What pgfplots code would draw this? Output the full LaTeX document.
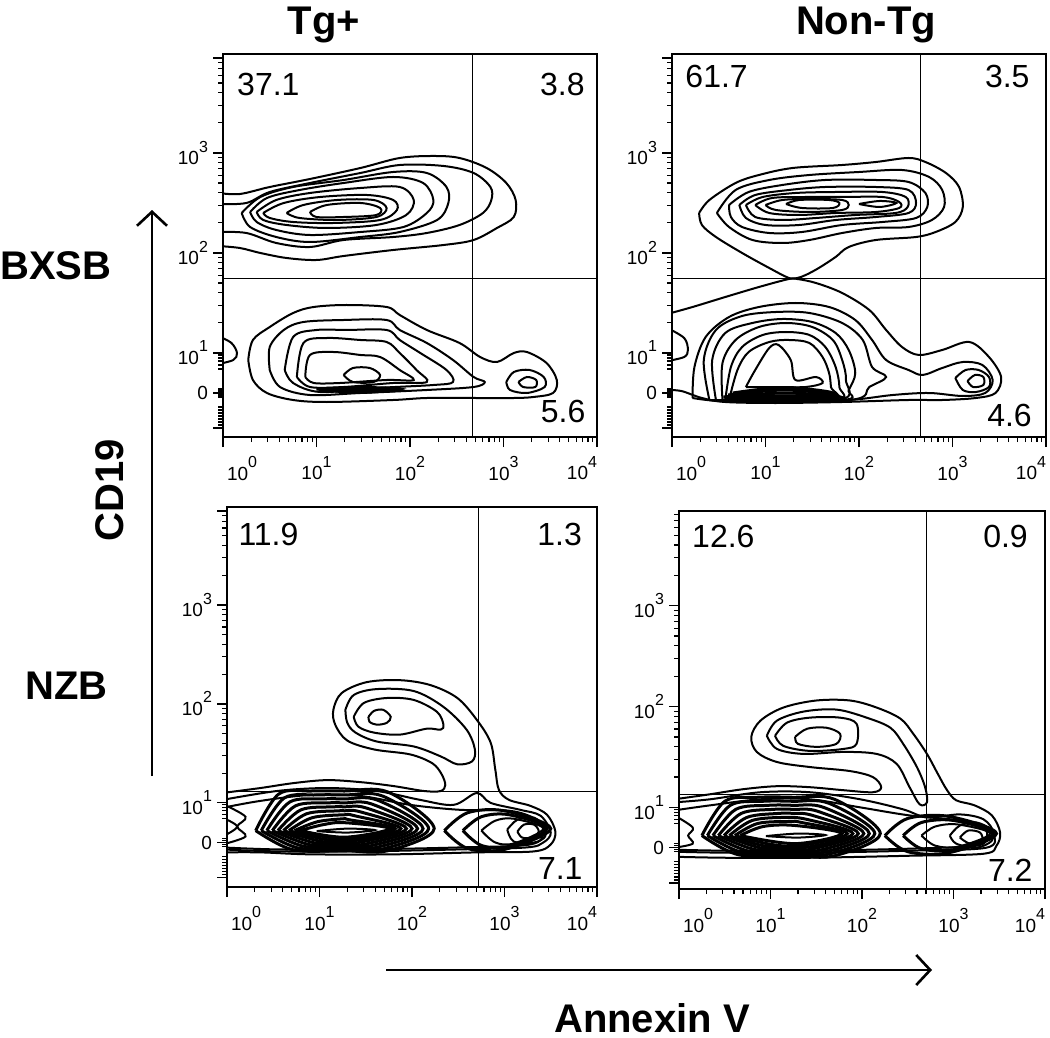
\documentclass[border=0pt]{standalone}
\usepackage{fontspec}
\setmainfont{Liberation Sans}
\usepackage{pgfplots}
\pgfplotsset{compat=1.18}
\usetikzlibrary{arrows.meta}

\newcommand{\tl}[1]{10\raisebox{0.68em}{\fontsize{8}{8}\selectfont #1}}
\newcommand{\qfont}{\fontsize{16}{16}\selectfont}
\newcommand{\bigfont}{\fontsize{20}{20}\selectfont\bfseries}

\pgfplotsset{
  flow/.style={
    scale only axis,
    anchor=south west,
    xmin=0, xmax=4,
    axis line style={line width=0.8pt},
    tick align=outside,
    xtick pos=bottom, ytick pos=left,
    major tick length=5pt, minor tick length=2.5pt,
    every tick/.style={black, line width=0.6pt},
    xtick={0,1,2,3,4},
    xticklabels={\makebox[0pt][l]{\hspace{2pt}\tl{0}},\tl{1},\tl{2},\tl{3},\makebox[0pt][r]{\tl{4}}},
    minor xtick={0.301,0.477,0.602,0.699,0.778,0.845,0.903,0.954,
                 1.301,1.477,1.602,1.699,1.778,1.845,1.903,1.954,
                 2.301,2.477,2.602,2.699,2.778,2.845,2.903,2.954,
                 3.301,3.477,3.602,3.699,3.778,3.845,3.903,3.954},
    ytick={0.6,1,2,3},
    yticklabels={0,\tl{1},\tl{2},\tl{3}},
    minor ytick={0.28,0.31,0.34,0.37,0.40,0.43,0.46,0.56,0.58,0.62,0.64,
                 0.84,0.88,0.92,0.95,0.98,
                 1.301,1.477,1.602,1.699,1.778,1.845,1.903,1.954,
                 2.301,2.477,2.602,2.699,2.778,2.845,2.903,2.954,
                 3.301,3.477,3.602,3.699,3.778,3.845,3.903},
    extra y ticks={0.25,3.95}, extra y tick labels={,},
    tick label style={font=\fontsize{9.5}{10}\selectfont},
    xticklabel style={yshift=-1pt},
    yticklabel style={xshift=1pt},
  },
  ct/.style={black, line width=1pt, smooth, tension=0.55, mark=none},
  dense/.style={black, line width=1.5pt, smooth, tension=0.55, mark=none},
  gate/.style={black, line width=0.5pt, mark=none},
}

\begin{document}
\begin{tikzpicture}
\path[use as bounding box] (0pt,0pt) rectangle (525pt,-519pt);

% ---------------- BXSB, Tg+ ----------------
\begin{axis}[flow, at={(111.5pt,-218.5pt)}, width=187pt, height=191.5pt, ymin=0.16, ymax=3.99]
\addplot[gate] coordinates {(2.67,0) (2.67,4.1)};
\addplot[gate] coordinates {(0,1.74) (4,1.74)};
% upper population
\addplot[ct] coordinates {(-0.05,2.60) (0.18,2.59) (0.50,2.66) (0.93,2.74) (1.47,2.85) (1.89,2.95) (2.25,2.97) (2.53,2.95) (2.82,2.85) (3.03,2.70) (3.13,2.53) (3.11,2.36) (2.93,2.25) (2.68,2.13) (2.36,2.08) (1.82,2.03) (1.29,1.97) (1.00,1.93) (0.68,1.95) (0.40,2.00) (0.18,2.05) (-0.05,2.07)};
\addplot[ct] coordinates {(-0.05,2.49) (0.25,2.50) (0.50,2.61) (0.93,2.70) (1.47,2.80) (1.89,2.88) (2.36,2.87) (2.68,2.80) (2.86,2.66) (2.87,2.53) (2.78,2.40) (2.53,2.28) (2.18,2.20) (1.82,2.16) (1.29,2.13) (0.93,2.06) (0.57,2.10) (0.25,2.20) (-0.05,2.21)};
\addplot[ct] coordinates {(0.20,2.40) (0.40,2.56) (0.75,2.66) (1.29,2.73) (1.82,2.81) (2.18,2.80) (2.39,2.66) (2.41,2.50) (2.29,2.33) (1.89,2.21) (1.47,2.16) (0.93,2.11) (0.57,2.16) (0.29,2.26) (0.20,2.40)};
\addplot[ct] coordinates {(0.29,2.41) (0.47,2.55) (0.82,2.63) (1.29,2.70) (1.82,2.76) (2.14,2.70) (2.25,2.53) (2.18,2.40) (1.93,2.26) (1.47,2.21) (0.93,2.18) (0.57,2.23) (0.36,2.31) (0.29,2.41)};
\addplot[ct] coordinates {(0.36,2.41) (0.57,2.53) (0.93,2.60) (1.47,2.65) (1.89,2.66) (2.04,2.53) (1.96,2.38) (1.64,2.28) (1.11,2.25) (0.68,2.28) (0.43,2.33) (0.36,2.41)};
\addplot[ct] coordinates {(0.43,2.40) (0.65,2.50) (1.04,2.56) (1.54,2.58) (1.82,2.53) (1.86,2.43) (1.68,2.33) (1.18,2.30) (0.75,2.31) (0.50,2.35) (0.43,2.40)};
\addplot[ct] coordinates {(0.68,2.40) (0.86,2.48) (1.22,2.53) (1.61,2.53) (1.75,2.45) (1.64,2.36) (1.22,2.33) (0.82,2.35) (0.68,2.40)};
\addplot[ct] coordinates {(0.93,2.41) (1.11,2.48) (1.47,2.50) (1.68,2.45) (1.64,2.38) (1.29,2.36) (1.00,2.36) (0.93,2.41)};
% lower population
\addplot[ct] coordinates {(-0.05,1.17) (0.09,1.10) (0.15,1.00) (0.11,0.93) (-0.05,0.89)};
\addplot[ct] coordinates {(0.27,0.93) (0.32,1.13) (0.50,1.26) (0.75,1.40) (0.97,1.46) (1.32,1.48) (1.75,1.46) (1.89,1.38) (2.18,1.23) (2.53,1.10) (2.75,0.96) (2.93,0.91) (3.11,1.00) (3.25,1.01) (3.46,0.90) (3.57,0.73) (3.53,0.60) (3.32,0.56) (3.11,0.55) (2.71,0.55) (2.18,0.55) (1.82,0.53) (1.11,0.51) (0.75,0.53) (0.47,0.60) (0.32,0.73) (0.27,0.93)};
\addplot[ct] coordinates {(0.50,0.83) (0.50,1.06) (0.65,1.23) (0.86,1.31) (1.29,1.33) (1.75,1.33) (1.89,1.23) (2.18,1.10) (2.46,0.93) (2.68,0.76) (2.80,0.71) (2.68,0.66) (2.18,0.63) (1.47,0.60) (0.93,0.58) (0.61,0.66) (0.50,0.83)};
\addplot[ct] coordinates {(0.66,0.83) (0.75,1.16) (1.00,1.23) (1.32,1.23) (1.75,1.23) (1.89,1.13) (2.11,1.00) (2.39,0.83) (2.46,0.71) (2.25,0.68) (1.64,0.65) (1.04,0.61) (0.75,0.70) (0.66,0.83)};
\addplot[ct] coordinates {(0.79,0.76) (0.86,1.10) (1.11,1.15) (1.47,1.13) (1.75,1.11) (1.89,1.00) (2.07,0.83) (2.18,0.71) (1.82,0.70) (1.29,0.66) (0.93,0.66) (0.79,0.76)};
\addplot[ct] coordinates {(0.88,0.76) (0.93,0.98) (1.18,1.01) (1.47,0.98) (1.68,0.96) (1.89,0.83) (2.04,0.73) (1.75,0.73) (1.25,0.70) (0.97,0.70) (0.88,0.76)};
\addplot[ct] coordinates {(1.29,0.78) (1.39,0.85) (1.57,0.85) (1.68,0.78) (1.61,0.71) (1.39,0.71) (1.29,0.78)};
\addplot[dense] coordinates {(1.00,0.64) (1.45,0.655) (1.90,0.64) (1.45,0.605) (1.00,0.64)};
\addplot[dense] coordinates {(1.05,0.63) (1.45,0.635) (1.85,0.625) (1.45,0.615) (1.05,0.63)};
\addplot[ct] coordinates {(3.03,0.71) (3.11,0.81) (3.28,0.83) (3.43,0.76) (3.44,0.66) (3.25,0.60) (3.07,0.63) (3.03,0.71)};
\addplot[ct] coordinates {(3.16,0.71) (3.25,0.76) (3.35,0.73) (3.34,0.66) (3.21,0.66) (3.16,0.71)};
\node[anchor=north west, inner sep=0pt, font=\qfont] at (rel axis cs:0.037,0.950) {37.1};
\node[anchor=north east, inner sep=0pt, font=\qfont] at (rel axis cs:0.968,0.950) {3.8};
\node[anchor=south east, inner sep=0pt, font=\qfont] at (rel axis cs:0.970,0.037) {5.6};
\end{axis}

% ---------------- BXSB, Non-Tg ----------------
\begin{axis}[flow, at={(336pt,-218.5pt)}, width=187pt, height=191.5pt, ymin=0.16, ymax=3.99]
\addplot[gate] coordinates {(2.66,0) (2.66,4.1)};
\addplot[gate] coordinates {(0,1.74) (4,1.74)};
% upper population
\addplot[ct] coordinates {(0.29,2.40) (0.40,2.53) (0.68,2.70) (0.93,2.78) (1.29,2.85) (1.82,2.88) (2.18,2.91) (2.53,2.95) (2.71,2.91) (2.93,2.80) (3.07,2.66) (3.11,2.46) (3.03,2.31) (2.82,2.21) (2.61,2.16) (2.18,2.13) (1.89,2.06) (1.75,1.96) (1.57,1.85) (1.43,1.78) (1.34,1.75) (1.25,1.75) (1.04,1.85) (0.75,2.00) (0.47,2.16) (0.32,2.28) (0.29,2.40)};
\addplot[ct] coordinates {(0.48,2.40) (0.68,2.63) (1.04,2.73) (1.47,2.78) (2.00,2.81) (2.46,2.83) (2.75,2.76) (2.89,2.63) (2.91,2.46) (2.78,2.33) (2.53,2.26) (2.18,2.25) (1.82,2.20) (1.47,2.13) (1.18,2.10) (0.86,2.13) (0.61,2.26) (0.48,2.40)};
\addplot[ct] coordinates {(0.61,2.48) (0.82,2.61) (1.18,2.68) (1.64,2.73) (2.18,2.73) (2.53,2.71) (2.71,2.60) (2.73,2.46) (2.61,2.35) (2.25,2.31) (1.82,2.28) (1.39,2.21) (1.04,2.20) (0.75,2.26) (0.63,2.36) (0.61,2.48)};
\addplot[ct] coordinates {(0.72,2.48) (0.89,2.58) (1.25,2.63) (1.64,2.66) (2.18,2.66) (2.53,2.63) (2.61,2.50) (2.53,2.40) (2.18,2.36) (1.75,2.33) (1.36,2.28) (1.00,2.28) (0.79,2.35) (0.72,2.48)};
\addplot[ct] coordinates {(0.79,2.48) (0.97,2.56) (1.32,2.60) (1.75,2.61) (2.25,2.61) (2.50,2.56) (2.52,2.46) (2.39,2.40) (1.96,2.38) (1.54,2.35) (1.18,2.33) (0.89,2.36) (0.79,2.48)};
\addplot[ct] coordinates {(0.89,2.48) (1.07,2.55) (1.43,2.56) (1.82,2.56) (2.25,2.56) (2.43,2.51) (2.43,2.45) (2.18,2.41) (1.75,2.40) (1.36,2.38) (1.04,2.40) (0.89,2.48)};
\addplot[ct] coordinates {(1.00,2.48) (1.18,2.53) (1.47,2.54) (1.82,2.53) (1.89,2.48) (1.82,2.43) (1.47,2.41) (1.11,2.43) (1.00,2.48)};
\addplot[ct] coordinates {(1.22,2.49) (1.36,2.53) (1.68,2.53) (1.79,2.50) (1.72,2.45) (1.39,2.45) (1.22,2.49)};
\addplot[ct] coordinates {(2.00,2.49) (2.22,2.52) (2.40,2.50) (2.22,2.46) (2.00,2.49)};
% lower population
\addplot[ct] coordinates {(-0.05,1.39) (0.22,1.46) (0.57,1.56) (0.93,1.66) (1.25,1.74) (1.34,1.74) (1.54,1.70) (1.82,1.60) (2.11,1.43) (2.29,1.23) (2.46,1.06) (2.64,0.98) (2.89,1.03) (3.18,1.11) (3.39,0.96) (3.52,0.76) (3.46,0.60) (3.25,0.55) (2.89,0.53) (2.53,0.53) (1.82,0.51) (1.11,0.50) (0.57,0.51) (0.32,0.55) (0.10,0.62) (-0.05,0.63)};
\addplot[ct] coordinates {(-0.05,1.25) (0.13,1.15) (0.17,1.03) (0.13,0.96) (-0.05,0.92)};
\addplot[ct] coordinates {(0.22,0.55) (0.24,0.86) (0.36,1.16) (0.61,1.36) (0.93,1.46) (1.32,1.50) (1.68,1.46) (1.96,1.33) (2.14,1.13) (2.29,0.93) (2.53,0.83) (2.68,0.78) (2.89,0.85) (3.11,0.91) (3.32,0.88) (3.43,0.73) (3.35,0.60) (3.11,0.57) (2.75,0.60) (2.36,0.58) (1.89,0.53) (1.11,0.51) (0.50,0.52) (0.22,0.55)};
\addplot[ct] coordinates {(0.40,0.53) (0.34,0.93) (0.47,1.23) (0.75,1.37) (1.11,1.41) (1.47,1.40) (1.82,1.30) (2.04,1.13) (2.14,0.86) (2.29,0.76) (2.11,0.66) (1.89,0.53) (0.40,0.53)};
\addplot[ct] coordinates {(0.47,0.53) (0.43,0.93) (0.57,1.20) (0.86,1.30) (1.18,1.34) (1.50,1.31) (1.75,1.20) (1.89,1.03) (1.96,0.80) (1.89,0.63) (1.82,0.53) (0.47,0.53)};
\addplot[ct] coordinates {(0.54,0.53) (0.54,0.90) (0.68,1.13) (0.93,1.26) (1.22,1.30) (1.50,1.26) (1.72,1.13) (1.82,0.93) (1.86,0.73) (1.79,0.53) (0.54,0.53)};
\addplot[ct] coordinates {(0.57,0.53) (0.63,0.86) (0.75,1.06) (0.97,1.18) (1.22,1.21) (1.47,1.18) (1.64,1.06) (1.75,0.86) (1.79,0.66) (1.75,0.53) (0.57,0.53)};
\addplot[ct] coordinates {(0.61,0.53) (0.70,0.83) (0.82,1.01) (1.04,1.11) (1.25,1.13) (1.47,1.10) (1.61,0.96) (1.68,0.80) (1.70,0.66) (1.71,0.53) (0.61,0.53)};
\addplot[ct] coordinates {(0.79,0.66) (0.89,0.83) (1.04,1.05) (1.14,1.08) (1.27,0.93) (1.32,0.73) (1.54,0.76) (1.61,0.70) (1.43,0.66) (1.11,0.66) (0.79,0.66)};
\addplot[dense] coordinates {(0.55,0.56) (1.20,0.60) (1.80,0.56) (1.20,0.52) (0.55,0.56)};
\addplot[dense] coordinates {(0.60,0.58) (1.20,0.63) (1.75,0.58) (1.20,0.545) (0.60,0.58)};
\addplot[dense] coordinates {(0.65,0.60) (1.20,0.655) (1.72,0.60) (1.20,0.57) (0.65,0.60)};
\addplot[ct] coordinates {(3.03,0.75) (3.14,0.83) (3.28,0.83) (3.39,0.76) (3.39,0.66) (3.25,0.61) (3.11,0.63) (3.03,0.75)};
\addplot[ct] coordinates {(3.16,0.72) (3.24,0.78) (3.33,0.76) (3.33,0.68) (3.22,0.66) (3.16,0.72)};
\node[anchor=north west, inner sep=0pt, font=\qfont] at (rel axis cs:0.035,0.971) {61.7};
\node[anchor=north east, inner sep=0pt, font=\qfont] at (rel axis cs:0.957,0.971) {3.5};
\node[anchor=south east, inner sep=0pt, font=\qfont] at (rel axis cs:0.963,0.026) {4.6};
\end{axis}

% ---------------- NZB, Tg+ ----------------
\begin{axis}[flow, at={(113.5pt,-443.5pt)}, width=185pt, height=190pt, ymin=0.15, ymax=3.99]
\addplot[gate] coordinates {(2.72,0) (2.72,4.1)};
\addplot[gate] coordinates {(0,1.12) (4,1.12)};
\addplot[ct] coordinates {(-0.05,1.10) (0.36,1.15) (0.72,1.20) (1.08,1.23) (1.44,1.21) (1.80,1.17) (2.13,1.12) (2.31,1.12) (2.36,1.18) (2.32,1.29) (2.22,1.40) (1.98,1.49) (1.59,1.54) (1.30,1.63) (1.17,1.79) (1.15,1.94) (1.24,2.11) (1.51,2.22) (1.87,2.24) (2.20,2.19) (2.49,2.06) (2.70,1.84) (2.85,1.61) (2.90,1.34) (2.94,1.13) (3.05,1.03) (3.28,0.97) (3.46,0.88) (3.55,0.71) (3.50,0.58) (3.32,0.51) (2.70,0.50) (1.80,0.48) (0.90,0.48) (0.36,0.50) (-0.05,0.50)};
\addplot[ct] coordinates {(1.28,1.94) (1.37,2.09) (1.62,2.15) (2.02,2.13) (2.34,1.97) (2.59,1.74) (2.68,1.54) (2.65,1.42) (2.49,1.39) (2.31,1.47) (2.02,1.57) (1.62,1.62) (1.39,1.71) (1.30,1.81) (1.28,1.94)};
\addplot[ct] coordinates {(1.37,1.87) (1.48,2.01) (1.73,2.06) (2.02,2.04) (2.27,1.92) (2.34,1.79) (2.31,1.74) (2.16,1.75) (1.87,1.69) (1.59,1.71) (1.42,1.77) (1.37,1.87)};
\addplot[ct] coordinates {(1.53,1.87) (1.59,1.93) (1.69,1.94) (1.77,1.87) (1.73,1.81) (1.62,1.79) (1.54,1.82) (1.53,1.87)};
% dense lower band
\addplot[ct] coordinates {(-0.05,1.03) (0.54,1.12) (1.08,1.15) (1.62,1.12) (2.09,1.03) (2.45,0.98) (2.70,1.10) (2.85,1.00) (3.17,0.93) (3.39,0.87) (3.50,0.70) (3.42,0.60) (3.24,0.55) (2.52,0.53) (1.44,0.51) (0.54,0.51) (-0.05,0.53)};
\addplot[ct] coordinates {(-0.05,0.95) (0.36,1.02) (0.90,1.08) (1.44,1.07) (1.98,0.98) (2.52,0.93) (3.06,0.92) (3.35,0.83) (3.42,0.70) (3.28,0.58) (2.52,0.55) (1.44,0.53) (0.54,0.53) (-0.05,0.55)};
\addplot[ct] coordinates {(-0.05,0.99) (0.20,0.86) (0.11,0.76) (0.20,0.66) (-0.05,0.58)};
\addplot[ct] coordinates {(-0.05,0.85) (0.11,0.76) (-0.05,0.66)};
\addplot[dense] coordinates {(0.31,0.72) (0.56,1.09) (0.91,1.12) (1.27,1.12) (1.74,1.11) (2.24,0.74) (1.74,0.517) (1.27,0.517) (0.71,0.527) (0.31,0.72)};
\addplot[dense] coordinates {(0.37,0.72) (0.62,1.05) (0.97,1.08) (1.27,1.08) (1.68,1.07) (2.18,0.74) (1.68,0.534) (1.27,0.534) (0.77,0.544) (0.37,0.72)};
\addplot[dense] coordinates {(0.43,0.72) (0.68,1.01) (1.03,1.04) (1.27,1.04) (1.62,1.03) (2.12,0.74) (1.62,0.551) (1.27,0.551) (0.83,0.561) (0.43,0.72)};
\addplot[dense] coordinates {(0.49,0.72) (0.74,0.97) (1.09,1.00) (1.27,1.00) (1.56,0.99) (2.06,0.74) (1.56,0.568) (1.27,0.568) (0.89,0.578) (0.49,0.72)};
\addplot[dense] coordinates {(0.55,0.72) (0.80,0.93) (1.15,0.96) (1.27,0.96) (1.50,0.95) (2.00,0.74) (1.50,0.585) (1.27,0.585) (0.95,0.595) (0.55,0.72)};
\addplot[dense] coordinates {(0.61,0.72) (0.86,0.89) (1.21,0.92) (1.27,0.92) (1.44,0.91) (1.94,0.74) (1.44,0.602) (1.27,0.602) (1.01,0.612) (0.61,0.72)};
\addplot[dense] coordinates {(0.67,0.72) (0.92,0.85) (1.27,0.88) (1.38,0.87) (1.88,0.74) (1.38,0.619) (1.07,0.629) (0.67,0.72)};
\addplot[dense] coordinates {(0.73,0.72) (0.98,0.81) (1.27,0.84) (1.32,0.83) (1.82,0.74) (1.32,0.636) (1.13,0.646) (0.73,0.72)};
\addplot[dense] coordinates {(0.79,0.72) (1.04,0.78) (1.27,0.80) (1.76,0.74) (1.27,0.653) (0.79,0.72)};
\addplot[ct] coordinates {(0.97,0.715) (1.30,0.74) (1.60,0.725) (1.30,0.70) (0.97,0.715)};
\addplot[dense] coordinates {(2.35,0.72) (2.60,0.90) (3.00,0.92) (3.50,0.74) (3.00,0.53) (2.60,0.54) (2.35,0.72)};
\addplot[dense] coordinates {(2.55,0.72) (2.75,0.86) (3.05,0.88) (3.46,0.74) (3.05,0.56) (2.75,0.57) (2.55,0.72)};
\addplot[ct] coordinates {(2.75,0.72) (2.90,0.82) (3.10,0.84) (3.42,0.74) (3.10,0.59) (2.90,0.60) (2.75,0.72)};
\addplot[ct] coordinates {(3.03,0.73) (3.14,0.83) (3.32,0.85) (3.42,0.76) (3.44,0.66) (3.32,0.60) (3.10,0.61) (3.03,0.73)};
\addplot[ct] coordinates {(3.14,0.71) (3.21,0.78) (3.32,0.78) (3.37,0.71) (3.30,0.65) (3.19,0.65) (3.14,0.71)};
\node[anchor=north west, inner sep=0pt, font=\qfont] at (rel axis cs:0.030,0.958) {11.9};
\node[anchor=north east, inner sep=0pt, font=\qfont] at (rel axis cs:0.960,0.958) {1.3};
\node[anchor=south east, inner sep=0pt, font=\qfont] at (rel axis cs:0.962,0.018) {7.1};
\end{axis}

% ---------------- NZB, Non-Tg ----------------
\begin{axis}[flow, at={(339.5pt,-444.5pt)}, width=183pt, height=189pt, ymin=0.19, ymax=3.94]
\addplot[gate] coordinates {(2.70,0) (2.70,4.1)};
\addplot[gate] coordinates {(0,1.13) (4,1.13)};
\addplot[ct] coordinates {(-0.05,1.08) (0.34,1.13) (0.70,1.18) (1.07,1.21) (1.43,1.20) (1.80,1.17) (2.12,1.15) (2.21,1.20) (2.12,1.30) (1.87,1.36) (1.43,1.40) (1.07,1.45) (0.85,1.55) (0.79,1.70) (0.89,1.86) (1.14,1.99) (1.50,2.06) (1.87,2.06) (2.16,1.99) (2.42,1.88) (2.56,1.73) (2.71,1.53) (2.83,1.33) (2.93,1.17) (3.03,1.07) (3.23,1.02) (3.42,0.92) (3.51,0.75) (3.47,0.62) (3.33,0.54) (2.52,0.52) (1.43,0.50) (0.52,0.50) (-0.05,0.51)};
\addplot[ct] coordinates {(0.96,1.71) (1.07,1.86) (1.36,1.95) (1.72,1.97) (2.05,1.89) (2.31,1.79) (2.45,1.63) (2.60,1.40) (2.69,1.20) (2.71,1.05) (2.63,1.03) (2.52,1.20) (2.38,1.43) (2.16,1.53) (1.80,1.55) (1.36,1.53) (1.07,1.58) (0.96,1.71)};
\addplot[ct] coordinates {(1.05,1.71) (1.18,1.84) (1.43,1.89) (1.76,1.89) (1.94,1.83) (1.94,1.63) (1.80,1.58) (1.43,1.56) (1.14,1.61) (1.05,1.71)};
\addplot[ct] coordinates {(1.27,1.70) (1.40,1.78) (1.61,1.79) (1.76,1.73) (1.72,1.63) (1.50,1.60) (1.30,1.63) (1.27,1.70)};
% dense lower band
\addplot[ct] coordinates {(-0.05,1.05) (0.34,1.08) (0.89,1.15) (1.43,1.15) (1.98,1.08) (2.45,0.98) (2.71,0.90) (3.07,0.93) (3.33,0.88) (3.44,0.74) (3.36,0.60) (2.52,0.57) (1.43,0.55) (0.52,0.55) (-0.05,0.56)};
\addplot[ct] coordinates {(-0.05,0.97) (0.34,1.02) (0.89,1.08) (1.43,1.08) (1.98,1.00) (2.52,0.92) (3.07,0.87) (3.33,0.80) (3.36,0.70) (3.25,0.62) (2.52,0.59) (1.43,0.57) (0.52,0.57) (-0.05,0.58)};
\addplot[ct] coordinates {(-0.05,0.92) (0.15,0.80) (0.10,0.72) (0.15,0.64) (-0.05,0.60)};
\addplot[dense] coordinates {(0.25,0.72) (0.50,1.06) (0.85,1.10) (1.25,1.10) (1.70,1.08) (2.20,0.74) (1.70,0.52) (1.25,0.52) (0.65,0.53) (0.25,0.72)};
\addplot[dense] coordinates {(0.31,0.72) (0.56,1.02) (0.91,1.06) (1.25,1.06) (1.64,1.04) (2.14,0.74) (1.64,0.537) (1.25,0.537) (0.71,0.547) (0.31,0.72)};
\addplot[dense] coordinates {(0.37,0.72) (0.62,0.98) (0.97,1.02) (1.25,1.02) (1.58,1.00) (2.08,0.74) (1.58,0.554) (1.25,0.554) (0.77,0.564) (0.37,0.72)};
\addplot[dense] coordinates {(0.43,0.72) (0.68,0.94) (1.03,0.98) (1.25,0.98) (1.52,0.96) (2.02,0.74) (1.52,0.571) (1.25,0.571) (0.83,0.581) (0.43,0.72)};
\addplot[dense] coordinates {(0.49,0.72) (0.74,0.90) (1.09,0.94) (1.25,0.94) (1.46,0.92) (1.96,0.74) (1.46,0.588) (1.25,0.588) (0.89,0.598) (0.49,0.72)};
\addplot[dense] coordinates {(0.55,0.72) (0.80,0.87) (1.15,0.90) (1.40,0.88) (1.90,0.74) (1.40,0.605) (0.95,0.615) (0.55,0.72)};
\addplot[dense] coordinates {(0.61,0.72) (0.86,0.84) (1.21,0.86) (1.34,0.85) (1.84,0.74) (1.34,0.622) (1.01,0.632) (0.61,0.72)};
\addplot[dense] coordinates {(0.67,0.72) (0.92,0.81) (1.27,0.82) (1.78,0.74) (1.27,0.64) (0.67,0.72)};
\addplot[ct] coordinates {(0.95,0.715) (1.30,0.74) (1.60,0.725) (1.30,0.70) (0.95,0.715)};
\addplot[dense] coordinates {(2.25,0.72) (2.50,0.89) (2.95,0.91) (3.47,0.74) (2.95,0.55) (2.50,0.56) (2.25,0.72)};
\addplot[dense] coordinates {(2.45,0.72) (2.65,0.85) (3.00,0.87) (3.43,0.74) (3.00,0.58) (2.65,0.59) (2.45,0.72)};
\addplot[ct] coordinates {(2.65,0.72) (2.80,0.81) (3.05,0.83) (3.40,0.74) (3.05,0.61) (2.80,0.62) (2.65,0.72)};
\addplot[ct] coordinates {(2.96,0.72) (3.07,0.82) (3.25,0.85) (3.40,0.78) (3.42,0.67) (3.25,0.60) (3.03,0.64) (2.96,0.72)};
\addplot[ct] coordinates {(3.07,0.70) (3.16,0.77) (3.29,0.75) (3.31,0.67) (3.18,0.64) (3.07,0.70)};
\node[anchor=north west, inner sep=0pt, font=\qfont] at (rel axis cs:0.035,0.963) {12.6};
\node[anchor=north east, inner sep=0pt, font=\qfont] at (rel axis cs:0.954,0.963) {0.9};
\node[anchor=south east, inner sep=0pt, font=\qfont] at (rel axis cs:0.967,0.019) {7.2};
\end{axis}

% ---------------- labels and arrows ----------------
\node[font=\bigfont] at (162pt,-12.5pt) {Tg+};
\node[font=\bigfont] at (433pt,-12.5pt) {Non-Tg};
\node[font=\bigfont, anchor=west, inner sep=0pt] at (0pt,-133pt) {BXSB};
\node[font=\bigfont, anchor=west, inner sep=0pt] at (12.5pt,-343pt) {NZB};
\node[font=\bigfont, rotate=90] at (55pt,-245pt) {CD19};
\draw[line width=1.3pt, -{Straight Barb[length=7pt,width=15pt,line width=1.3pt]}] (76pt,-388pt) -- (76pt,-105pt);
\draw[line width=1.3pt, -{Straight Barb[length=7pt,width=15pt,line width=1.3pt]}] (193pt,-485pt) -- (466pt,-485pt);
\node[font=\bigfont, inner sep=0pt] at (326pt,-509pt) {Annexin V};
\end{tikzpicture}
\end{document}
